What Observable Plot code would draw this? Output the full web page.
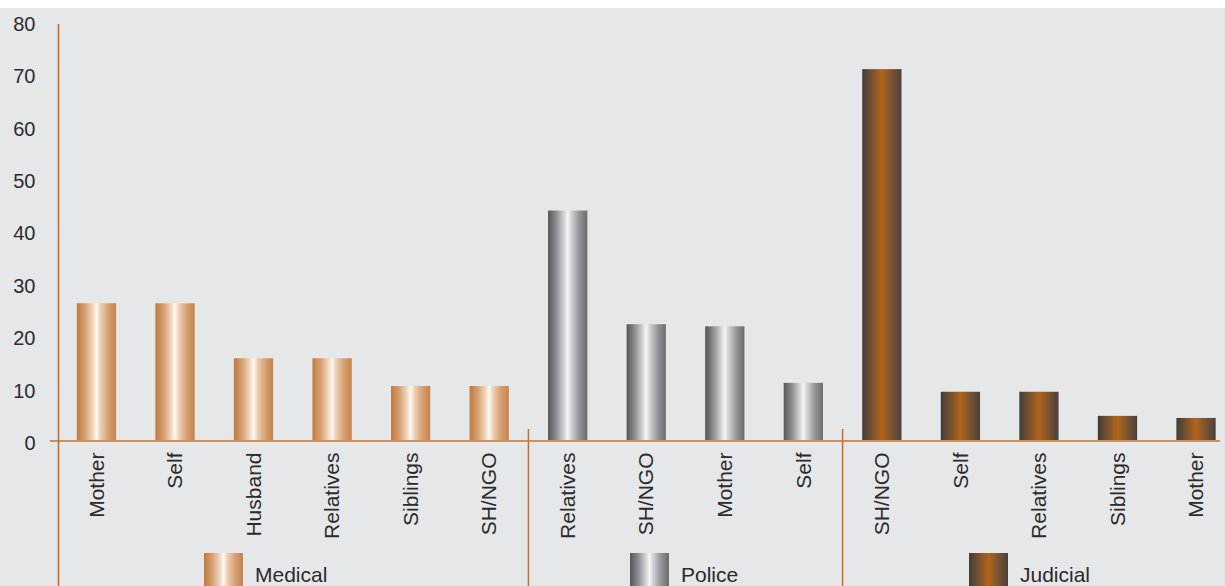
<!DOCTYPE html>
<html>
<head>
<meta charset="utf-8">
<script src="https://cdn.jsdelivr.net/npm/d3@7"></script>
<script src="https://cdn.jsdelivr.net/npm/@observablehq/plot@0.6"></script>
<style>
  html, body { margin: 0; padding: 0; background: #ffffff; }
  #chart svg { display: block; }
</style>
</head>
<body>
<div id="chart"></div>
<script>
// Who accompanied the survivor, by type of service (% of cases)
const groups = ["Medical", "Police", "Judicial"];

const medicalCategories = ["Mother", "Self", "Husband", "Relatives", "Siblings", "SH/NGO"];
const medicalValues = [26.3, 26.3, 15.8, 15.8, 10.5, 10.5];

const policeCategories = ["Relatives", "SH/NGO", "Mother", "Self"];
const policeValues = [44.0, 22.3, 21.9, 11.1];

const judicialCategories = ["SH/NGO", "Self", "Relatives", "Siblings", "Mother"];
const judicialValues = [71.0, 9.4, 9.4, 4.8, 4.4];

const yTicks = [0, 10, 20, 30, 40, 50, 60, 70, 80];

// Build rows with a unique key per bar (category names repeat across groups)
function rowsFor(group, cats, vals) {
  return cats.map((c, i) => ({group, category: c, key: group + "|" + c, value: vals[i]}));
}
const medicalRows = rowsFor("Medical", medicalCategories, medicalValues);
const policeRows = rowsFor("Police", policeCategories, policeValues);
const judicialRows = rowsFor("Judicial", judicialCategories, judicialValues);
const allRows = [...medicalRows, ...policeRows, ...judicialRows];
const keys = allRows.map(d => d.key);

// Cylinder-like horizontal gradients, one per service type
const gradients = {
  Medical: [["0%", "#c07a3e"], ["22%", "#d7a275"], ["42%", "#f2dcc6"], ["50%", "#fffaf4"], ["60%", "#edd0b4"], ["80%", "#d6a073"], ["100%", "#c4834b"]],
  Police: [["0%", "#54565a"], ["22%", "#8f9195"], ["42%", "#d7d8da"], ["50%", "#f6f6f6"], ["60%", "#cfd0d2"], ["80%", "#929397"], ["100%", "#6a6c70"]],
  Judicial: [["0%", "#433b37"], ["25%", "#76522f"], ["50%", "#b3641a"], ["75%", "#7a5332"], ["100%", "#4a413b"]]
};
const gradId = g => "grad-" + g.toLowerCase();

const W = 1225, H = 586;
const font = "'Liberation Sans', Arial, sans-serif";
const ink = "#2b2b2b";

const plot = Plot.plot({
  width: W,
  height: H,
  marginLeft: 57,
  marginRight: 0,
  marginTop: 22,
  marginBottom: 145,
  style: {background: "transparent", fontFamily: font, color: ink},
  // the last band runs slightly past the right edge of the panel
  x: {domain: keys, range: [57.2, 1235.3], paddingInner: 0.5, paddingOuter: 0.25, round: false, label: null},
  y: {domain: [0, 80], label: null},
  marks: [
    Plot.barY(medicalRows, {x: "key", y: "value", fill: "url(#" + gradId("Medical") + ")"}),
    Plot.barY(policeRows, {x: "key", y: "value", fill: "url(#" + gradId("Police") + ")"}),
    Plot.barY(judicialRows, {x: "key", y: "value", fill: "url(#" + gradId("Judicial") + ")"}),
    Plot.axisY({ticks: yTicks, tickSize: 0, tickPadding: 22, fontSize: 20, dy: 2, label: null, fill: ink}),
    Plot.axisX({tickSize: 0, tickRotate: -90, tickPadding: 11, fontSize: 21, label: null, fill: ink,
      tickFormat: k => k.split("|")[1]})
  ]
});

const svg = d3.select(plot);
const xs = plot.scale("x");
const ys = plot.scale("y");
const bw = xs.bandwidth;
const y0 = ys.apply(0);

// gradient definitions
const defs = svg.insert("defs", ":first-child");
for (const g of groups) {
  const lg = defs.append("linearGradient").attr("id", gradId(g))
    .attr("x1", "0").attr("x2", "1").attr("y1", "0").attr("y2", "0");
  for (const [off, col] of gradients[g]) lg.append("stop").attr("offset", off).attr("stop-color", col);
}

// panel background below a thin white strip
svg.insert("rect", "defs + *")
  .attr("x", 0).attr("y", 8).attr("width", W).attr("height", H - 8)
  .attr("fill", "#e6e7e9");

const deco = svg.append("g");

// zero baseline across the bars
deco.append("line")
  .attr("x1", 50).attr("x2", 1220).attr("y1", y0).attr("y2", y0)
  .attr("stroke", "#c8915f").attr("stroke-width", 2);

// vertical value axis line
deco.append("line")
  .attr("x1", 58.5).attr("x2", 58.5).attr("y1", ys.apply(80) + 2).attr("y2", H)
  .attr("stroke", "#c0661e").attr("stroke-width", 1.5);

// separators between service groups
const groupRows = [medicalRows, policeRows, judicialRows];
for (let i = 0; i < groupRows.length - 1; i++) {
  const last = groupRows[i][groupRows[i].length - 1].key;
  const next = groupRows[i + 1][0].key;
  const sx = (xs.apply(last) + bw + xs.apply(next)) / 2;
  deco.append("line")
    .attr("x1", sx).attr("x2", sx).attr("y1", y0 - 12).attr("y2", H)
    .attr("stroke", "#c2702a").attr("stroke-width", 1.5);
}

// group legend along the bottom
const legendLeft = {Medical: 204, Police: 630, Judicial: 969};
for (const g of groups) {
  const lx = legendLeft[g];
  deco.append("rect")
    .attr("x", lx).attr("y", 553).attr("width", 39).attr("height", 40)
    .attr("fill", "url(#" + gradId(g) + ")");
  deco.append("text")
    .attr("x", lx + 51).attr("y", 582)
    .attr("text-anchor", "start")
    .attr("font-family", font).attr("font-size", 21).attr("fill", ink)
    .text(g);
}

document.getElementById("chart").appendChild(plot);
</script>
</body>
</html>
